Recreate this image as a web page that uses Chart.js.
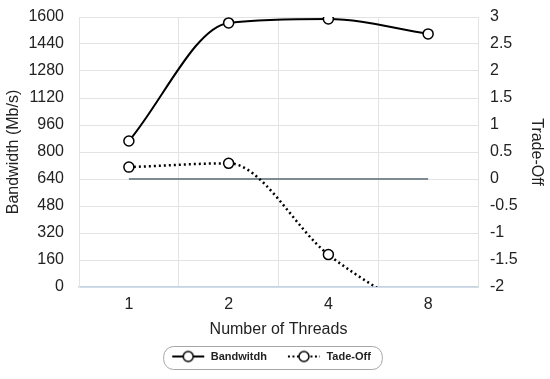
<!DOCTYPE html>
<html>
<head>
<meta charset="utf-8">
<script src="https://cdn.jsdelivr.net/npm/chart.js@4"></script>
<style>
  body { margin: 0; background: #fff; }
  #wrap { width: 550px; height: 379px; }
</style>
</head>
<body>
<div id="wrap"><canvas id="chart" width="550" height="379"></canvas></div>
<script>
const threads = ["1", "2", "4", "8"];
const bandwidth = [865, 1565, 1588, 1500];
const tradeOff = [0.22, 0.29, -1.4, -2.6];
const zeroLine = [0, 0, 0, 0];

const LEGEND_SHIFT = -8;

// little legend glyphs: line - circle - line (8px blank on the left for spacing)
function legendGlyph(dotted) {
  const c = document.createElement("canvas");
  c.width = 42;
  c.height = 14;
  const g = c.getContext("2d");
  g.strokeStyle = "#000";
  g.lineWidth = 2;
  if (dotted) g.setLineDash([2, 2.5]);
  g.beginPath();
  g.moveTo(9, 7);
  g.lineTo(41, 7);
  g.stroke();
  g.setLineDash([]);
  g.beginPath();
  g.arc(25, 7, 5, 0, Math.PI * 2);
  g.fillStyle = "#fff";
  g.fill();
  g.lineWidth = 1.5;
  g.stroke();
  return c;
}

const legendBox = {
  id: "legendBox",
  afterDraw(chart) {
    const boxes = chart.legend.legendHitBoxes;
    if (!boxes || !boxes.length) return;
    const left = Math.min(...boxes.map(b => b.left)) + LEGEND_SHIFT;
    const right = Math.max(...boxes.map(b => b.left + b.width)) + LEGEND_SHIFT + 11;
    const top = Math.min(...boxes.map(b => b.top)) - 5;
    const bottom = Math.max(...boxes.map(b => b.top + b.height)) + 7;
    const ctx = chart.ctx;
    ctx.save();
    ctx.strokeStyle = "#a6a6a6";
    ctx.lineWidth = 1;
    ctx.beginPath();
    ctx.roundRect(left + 0.5, top + 0.5, right - left, bottom - top, 10);
    ctx.stroke();
    ctx.restore();
  }
};

const font = { family: "'Liberation Sans', Arial, sans-serif", size: 16 };
const plain = v => String(v);

const chart = new Chart(document.getElementById("chart"), {
  type: "line",
  data: {
    labels: threads,
    datasets: [
      {
        label: "Bandwitdh",
        data: bandwidth,
        yAxisID: "y",
        borderColor: "#000",
        borderWidth: 2,
        cubicInterpolationMode: "monotone",
        pointRadius: 5,
        pointBorderWidth: 1.5,
        pointBackgroundColor: "#fff",
        pointBorderColor: "#000"
      },
      {
        label: "Tade-Off",
        data: tradeOff,
        yAxisID: "y1",
        borderColor: "#000",
        borderWidth: 2.5,
        borderDash: [2, 3],
        cubicInterpolationMode: "monotone",
        pointRadius: 5,
        pointBorderWidth: 1.5,
        pointBackgroundColor: "#fff",
        pointBorderColor: "#000"
      },
      {
        label: "zero",
        data: zeroLine,
        yAxisID: "y1",
        borderColor: "#7c8b90",
        borderWidth: 2,
        pointRadius: 0
      }
    ]
  },
  options: {
    responsive: false,
    animation: false,
    layout: { padding: { top: 17, bottom: 7, left: 0, right: 0 } },
    plugins: {
      tooltip: { enabled: false },
      legend: {
        position: "bottom",
        labels: {
          color: "#222",
          font: { family: font.family, size: 11, weight: "bold" },
          usePointStyle: true,
          pointStyleWidth: 42,
          padding: 12,
          generateLabels(chart) {
            return chart.data.datasets.slice(0, 2).map((ds, i) => ({
              text: ds.label,
              pointStyle: legendGlyph(i === 1),
              fillStyle: "#fff",
              strokeStyle: "#000",
              lineWidth: 0,
              fontColor: "#222",
              datasetIndex: i
            }));
          }
        }
      }
    },
    scales: {
      x: {
        offset: true,
        grid: { offset: true, color: "#e3e3e3", drawTicks: false },
        border: { color: "#c3d3e8", width: 1.5 },
        ticks: { color: "#222", font, padding: 8 },
        title: { display: true, text: "Number of Threads", color: "#222", font, padding: { top: 4, bottom: 0 } },
        afterFit(s) { s.height = 52; }
      },
      y: {
        position: "left",
        min: 0,
        max: 1600,
        ticks: { stepSize: 160, color: "#222", font, padding: 15, callback: plain },
        grid: { color: "#e3e3e3", drawTicks: false },
        border: { color: "#e3e3e3" },
        title: { display: true, text: "Bandwidth (Mb/s)", color: "#222", font },
        afterFit(s) { s.width = 79; s.paddingTop = 0; s.paddingBottom = 0; }
      },
      y1: {
        position: "right",
        min: -2,
        max: 3,
        ticks: { stepSize: 0.5, color: "#222", font, padding: 12, callback: plain },
        grid: { drawOnChartArea: false, drawTicks: false },
        border: { color: "#e3e3e3" },
        title: { display: true, text: "Trade-Off", color: "#222", font },
        afterFit(s) { s.width = 72; s.paddingTop = 0; s.paddingBottom = 0; }
      }
    }
  },
  plugins: [legendBox]
});

// nudge the legend a bit left, the leading blank of the first glyph pushes it off centre
const lg = chart.legend;
const drawLegend = lg.draw.bind(lg);
lg.draw = function () {
  chart.ctx.save();
  chart.ctx.translate(LEGEND_SHIFT, 0);
  drawLegend();
  chart.ctx.restore();
};
chart.draw();
</script>
</body>
</html>
